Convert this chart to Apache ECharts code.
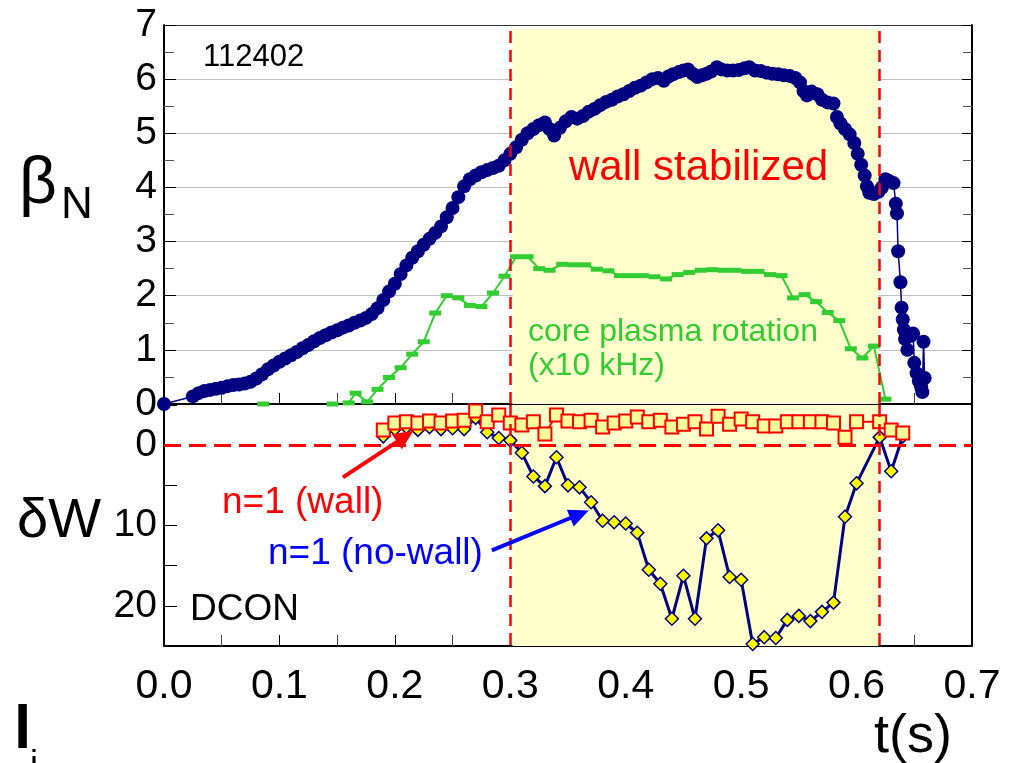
<!DOCTYPE html>
<html>
<head>
<meta charset="utf-8">
<script src="https://cdn.jsdelivr.net/npm/echarts@6/dist/echarts.min.js"></script>
<style>
  html, body { margin: 0; padding: 0; background: #fff; }
  #chart { width: 1019px; height: 763px; }
</style>
</head>
<body>
<div id="chart"></div>
<script>
// Shot 112402: normalized beta, core rotation and DCON delta-W versus time
const xTicks = [0.0, 0.1, 0.2, 0.3, 0.4, 0.5, 0.6, 0.7];

// beta_N trace
const betaT = [0.000,0.025,0.030,0.035,0.040,0.045,0.050,0.055,0.060,0.065,0.070,0.075,0.080,0.085,0.090,0.095,
  0.100,0.105,0.110,0.115,0.120,0.125,0.130,0.135,0.140,0.145,0.150,0.155,0.160,0.165,0.170,0.175,
  0.180,0.185,0.190,0.195,0.200,0.205,0.210,0.215,0.220,0.225,0.230,0.235,0.240,0.245,0.250,0.255,
  0.260,0.265,0.270,0.275,0.280,0.285,0.290,0.295,0.300,0.305,0.310,0.315,0.320,0.325,0.330,0.334,
  0.338,0.343,0.348,0.353,0.358,0.363,0.368,0.373,0.378,0.383,0.388,0.393,0.398,0.403,0.408,0.413,
  0.418,0.423,0.428,0.433,0.437,0.441,0.446,0.450,0.454,0.458,0.462,0.466,0.470,0.474,0.479,0.483,
  0.488,0.493,0.498,0.503,0.507,0.512,0.517,0.522,0.527,0.532,0.537,0.542,0.547,0.551,0.554,0.557,
  0.561,0.566,0.570,0.575,0.580,0.583,0.586,0.590,0.594,0.598,0.601,0.604,0.607,0.609,0.611,0.615,
  0.619,0.622,0.625,0.628,0.632,0.634,0.635,0.636,0.638,0.639,0.640,0.641,0.642,0.644,0.647,0.649,
  0.650,0.652,0.654,0.656,0.657,0.658,0.659];
const betaN = [0.00,0.14,0.20,0.24,0.26,0.28,0.30,0.33,0.35,0.36,0.38,0.41,0.47,0.55,0.64,0.71,
  0.78,0.84,0.90,0.96,1.03,1.09,1.16,1.22,1.27,1.32,1.36,1.41,1.45,1.50,1.54,1.59,
  1.66,1.77,1.92,2.08,2.22,2.40,2.56,2.70,2.82,2.94,3.05,3.16,3.28,3.45,3.62,3.82,
  4.02,4.15,4.22,4.28,4.32,4.36,4.40,4.50,4.62,4.74,4.88,5.00,5.08,5.15,5.20,5.08,
  4.96,5.10,5.22,5.30,5.27,5.32,5.40,5.45,5.52,5.58,5.62,5.68,5.72,5.78,5.84,5.88,
  5.94,6.00,6.02,5.97,6.05,6.09,6.13,6.16,6.18,6.10,6.04,6.07,6.10,6.14,6.22,6.18,
  6.16,6.16,6.17,6.20,6.22,6.16,6.15,6.12,6.10,6.09,6.07,6.06,6.02,5.94,5.78,5.70,
  5.77,5.72,5.62,5.57,5.55,5.30,5.18,5.08,4.98,4.82,4.62,4.42,4.22,4.02,3.90,3.88,
  3.92,4.00,4.15,4.12,4.08,3.70,3.52,2.82,2.25,1.78,1.56,1.37,1.20,1.00,1.26,1.30,
  0.76,0.57,0.42,0.31,0.22,1.15,0.48];

// core plasma rotation (x10 kHz); null separates unconnected samples
const rotT = [0.086,0.116,0.146,0.153,0.160,0.166,0.176,0.185,0.195,0.205,0.215,0.225,0.235,0.245,0.255,0.265,
  0.275,0.285,0.295,0.305,0.315,0.325,0.334,0.345,0.355,0.365,0.375,0.385,0.395,0.405,0.415,
  0.425,0.435,0.445,0.455,0.465,0.475,0.485,0.495,0.505,0.515,0.525,0.535,0.545,0.555,0.565,
  0.575,0.585,0.595,0.605,0.615,0.625];
const rotV = [0.00,null,0.00,null,0.02,0.20,0.04,0.27,0.49,0.67,0.92,1.15,1.68,2.00,1.96,1.82,
  1.80,2.05,2.36,2.72,2.72,2.50,2.47,2.58,2.57,2.57,2.49,2.46,2.37,2.37,2.37,
  2.35,2.31,2.39,2.43,2.47,2.48,2.47,2.47,2.45,2.45,2.39,2.37,1.96,2.02,1.89,
  1.69,1.54,1.02,0.85,1.07,0.09];

// DCON delta-W, n=1 with wall
const wallT = [0.19,0.20,0.21,0.22,0.23,0.24,0.25,0.26,0.27,0.28,0.29,0.30,0.31,0.32,0.33,0.34,
  0.35,0.36,0.37,0.38,0.39,0.40,0.41,0.42,0.43,0.44,0.45,0.46,0.47,0.48,0.49,0.50,
  0.51,0.52,0.53,0.54,0.55,0.56,0.57,0.58,0.59,0.60,0.62,0.63,0.64];
const wallW = [-1.9,-2.75,-2.9,-2.75,-3.0,-2.75,-3.0,-3.1,-4.25,-2.9,-3.75,-2.75,-2.5,-2.9,-1.4,-3.75,
  -3.0,-2.9,-3.1,-2.25,-2.75,-3.0,-3.5,-2.9,-3.1,-2.25,-2.6,-2.9,-2.0,-3.6,-2.6,-3.25,
  -2.9,-2.4,-2.4,-2.9,-2.9,-2.9,-2.9,-2.75,-1.0,-2.9,-2.9,-1.9,-1.5];

// DCON delta-W, n=1 without wall
const noWallT = [0.19,0.20,0.21,0.22,0.23,0.24,0.25,0.26,0.27,0.28,0.29,0.30,0.31,0.32,0.33,0.34,
  0.35,0.36,0.37,0.38,0.39,0.40,0.41,0.42,0.43,0.44,0.45,0.46,0.47,0.48,0.49,0.50,
  0.51,0.52,0.53,0.54,0.55,0.56,0.57,0.58,0.59,0.60,0.62,0.63,0.64];
const noWallW = [-1.1,-2.0,-2.25,-1.9,-2.25,-2.0,-2.1,-2.0,-3.4,-1.6,-0.9,-0.6,0.95,3.9,5.1,1.5,
  5.0,5.25,7.1,9.4,9.6,9.75,10.9,15.5,17.25,21.6,16.25,21.6,11.6,10.6,16.4,16.75,
  24.75,23.9,24.0,21.75,21.25,21.9,20.75,19.6,8.9,4.75,-1.0,3.25,-1.1];

// wall-stabilized window (s)
const windowStart = 0.3005, windowEnd = 0.617;
const shadeStart = 0.302, shadeEnd = 0.619;

const pairs = (xs, ys) => xs.map((x, i) => [x, ys[i]]);

const FONT = '"Liberation Sans", Arial, sans-serif';
const RED = '#ff0000', NAVY = '#000080', GREEN = '#33cc33', BLUE = '#0000ff';

const chart = echarts.init(document.getElementById('chart'), null, { renderer: 'canvas' });

const L = 164, W = 808;
const hiddenAxis = { show: true, axisLabel: { show: false }, axisTick: { show: false }, splitLine: { show: false } };

function txt(text, x, y, size, color, weight) {
  return {
    type: 'text', x: x, y: y, z: 100,
    style: {
      text: text, fill: color, fontSize: size, fontFamily: FONT, fontWeight: weight || 'normal',
      textAlign: 'left', textVerticalAlign: 'middle', align: 'left', verticalAlign: 'middle'
    }
  };
}

const option = {
  animation: false,
  backgroundColor: '#ffffff',
  grid: [
    { left: L, top: 25, width: W, height: 379, containLabel: false },
    { left: L, top: 405, width: W, height: 241, containLabel: false }
  ],
  xAxis: [
    { // beta panel, bottom edge
      type: 'value', gridIndex: 0, position: 'bottom', min: 0, max: 0.7, interval: 0.1,
      axisLine: { show: true, onZero: false, lineStyle: { color: '#000', width: 2 } },
      axisTick: { show: true, inside: true, length: 11, lineStyle: { color: '#000', width: 1 } },
      minorTick: { show: true, splitNumber: 2, length: 11, lineStyle: { color: '#444', width: 1 } },
      axisLabel: { show: false }, splitLine: { show: false }
    },
    { // delta-W panel, bottom edge with time labels
      type: 'value', gridIndex: 1, position: 'bottom', min: 0, max: 0.7, interval: 0.1,
      axisLine: { show: true, onZero: false, lineStyle: { color: '#000', width: 2 } },
      axisTick: { show: true, inside: true, length: 11, lineStyle: { color: '#000', width: 1 } },
      minorTick: { show: true, splitNumber: 2, length: 11, lineStyle: { color: '#444', width: 1 } },
      axisLabel: {
        show: true, margin: 20, fontSize: 41, fontFamily: FONT, color: '#000',
        showMinLabel: true, showMaxLabel: true,
        formatter: v => { const t = xTicks.find(k => Math.abs(k - v) < 1e-6); return t === undefined ? '' : t.toFixed(1); }
      },
      splitLine: { show: false }
    },
    Object.assign({ type: 'value', gridIndex: 0, position: 'top', min: 0, max: 0.7,
      axisLine: { show: true, onZero: false, lineStyle: { color: '#333', width: 1 } } }, hiddenAxis)
  ],
  yAxis: [
    { // beta_N
      type: 'value', gridIndex: 0, position: 'left', min: 0, max: 7, interval: 1,
      axisLine: { show: true, onZero: false, lineStyle: { color: '#000', width: 2 } },
      axisTick: { show: true, inside: true, length: 12, lineStyle: { color: '#000', width: 1 } },
      minorTick: { show: true, splitNumber: 2, length: 10, lineStyle: { color: '#555', width: 1 } },
      axisLabel: { show: true, margin: 7, fontSize: 39, fontFamily: FONT, color: '#000' },
      splitLine: { show: true, lineStyle: { color: '#c0c0c0', width: 1 } }
    },
    { // delta-W, inverted
      type: 'value', gridIndex: 1, position: 'left', min: -5, max: 25, interval: 5, inverse: true,
      axisLine: { show: true, onZero: false, lineStyle: { color: '#000', width: 2 } },
      axisTick: { show: true, inside: true, length: 13, lineStyle: { color: '#000', width: 1 } },
      axisLabel: {
        show: true, margin: 7, fontSize: 39, fontFamily: FONT, color: '#000',
        formatter: v => (v >= 0 && v % 10 === 0) ? String(v) : ''
      },
      splitLine: { show: false }
    },
    { // right edge of beta panel
      type: 'value', gridIndex: 0, position: 'right', min: 0, max: 7, interval: 1,
      axisLine: { show: true, onZero: false, lineStyle: { color: '#000', width: 2 } },
      axisTick: { show: true, inside: true, length: 10, lineStyle: { color: '#000', width: 1 } },
      minorTick: { show: true, splitNumber: 2, length: 9, lineStyle: { color: '#555', width: 1 } },
      axisLabel: { show: false }, splitLine: { show: false }
    },
    Object.assign({ type: 'value', gridIndex: 1, position: 'right', min: -5, max: 25, inverse: true,
      axisLine: { show: true, onZero: false, lineStyle: { color: '#000', width: 2 } } }, hiddenAxis)
  ],
  series: [
    { // shaded window, beta panel
      type: 'line', xAxisIndex: 0, yAxisIndex: 0, data: [], z: -1, silent: true,
      markArea: { silent: true, itemStyle: { color: '#ffffcc' },
        data: [[{ xAxis: shadeStart, yAxis: 0 }, { xAxis: shadeEnd, yAxis: 6.93 }]] }
    },
    { // shaded window, delta-W panel
      type: 'line', xAxisIndex: 1, yAxisIndex: 1, data: [], z: -1, silent: true,
      markArea: { silent: true, itemStyle: { color: '#ffffcc' },
        data: [[{ xAxis: shadeStart, yAxis: -5 }, { xAxis: shadeEnd, yAxis: 25 }]] }
    },
    {
      name: 'rotation', type: 'line', xAxisIndex: 0, yAxisIndex: 0,
      data: pairs(rotT, rotV), connectNulls: false,
      symbol: 'rect', symbolSize: [12, 5], showSymbol: true,
      itemStyle: { color: GREEN }, lineStyle: { color: GREEN, width: 2 }, z: 3
    },
    {
      name: 'betaN', type: 'line', xAxisIndex: 0, yAxisIndex: 0,
      data: pairs(betaT, betaN),
      symbol: 'circle', symbolSize: 14, showSymbol: true,
      itemStyle: { color: NAVY }, lineStyle: { color: NAVY, width: 1.5 }, z: 4,
      markLine: { silent: true, symbol: 'none', z: 6,
        label: { show: false },
        lineStyle: { color: RED, width: 2.5, type: [12, 7] },
        data: [{ xAxis: windowStart }, { xAxis: windowEnd }] }
    },
    {
      name: 'n=1 (no-wall)', type: 'line', xAxisIndex: 1, yAxisIndex: 1,
      data: pairs(noWallT, noWallW),
      symbol: 'diamond', symbolSize: 13, showSymbol: true,
      itemStyle: { color: '#ffff00', borderColor: NAVY, borderWidth: 1.5 },
      lineStyle: { color: NAVY, width: 3 }, z: 4,
      markLine: { silent: true, symbol: 'none', z: 6,
        label: { show: false },
        data: [
          { xAxis: windowStart, lineStyle: { color: RED, width: 2.5, type: [12, 7] } },
          { xAxis: windowEnd, lineStyle: { color: RED, width: 2.5, type: [12, 7] } },
          { yAxis: 0, lineStyle: { color: RED, width: 3, type: [17, 8] } },
          [ { coord: [0.155, 4.0], symbol: 'none' },
            { coord: [0.209, -1.1], symbol: 'triangle', symbolSize: [18, 20],
              lineStyle: { color: RED, width: 4, type: 'solid' } } ],
          [ { coord: [0.284, 13.1], symbol: 'none' },
            { coord: [0.360, 8.6], symbol: 'triangle', symbolSize: [18, 20],
              lineStyle: { color: BLUE, width: 4, type: 'solid' } } ]
        ] }
    },
    {
      name: 'n=1 (wall)', type: 'line', xAxisIndex: 1, yAxisIndex: 1,
      data: pairs(wallT, wallW),
      symbol: 'rect', symbolSize: 13, showSymbol: true,
      itemStyle: { color: '#ffff99', borderColor: RED, borderWidth: 2 },
      lineStyle: { color: RED, width: 2 }, z: 5
    }
  ],
  graphic: [
    txt('112402', 203, 57, 31, '#000'),
    txt('wall stabilized', 569, 168, 42, RED),
    txt('core plasma rotation', 528, 332, 32, GREEN),
    txt('(x10 kHz)', 528, 366, 32, GREEN),
    txt('n=1 (wall)', 222, 503, 37, RED),
    txt('n=1 (no-wall)', 268, 554, 37, BLUE),
    txt('DCON', 190, 610, 37, '#000'),
    txt('β', 19, 185, 66, '#000'),
    txt('N', 61, 206, 44, '#000'),
    txt('δW', 17, 522, 56, '#000'),
    txt('l', 14, 731, 62, '#000', 'bold'),
    txt('i', 30, 766, 36, '#000'),
    txt('t(s)', 874, 737, 54, '#000')
  ]
};

chart.setOption(option);
</script>
</body>
</html>
